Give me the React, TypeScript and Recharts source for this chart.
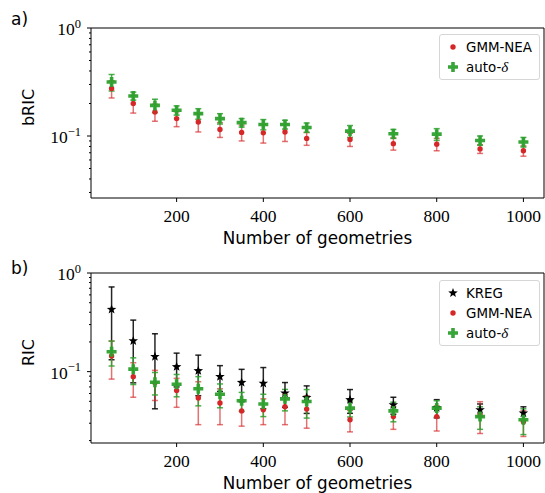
import React from 'react';
import { ScatterChart, Scatter, XAxis, YAxis, ErrorBar, Legend, ReferenceLine } from 'recharts';

// number of geometries (x positions shared by every series)
const geometries = [50, 100, 150, 200, 250, 300, 350, 400, 450, 500, 600, 700, 800, 900, 1000];

// panel a) bRIC
const gmmA = [0.275, 0.2, 0.167, 0.145, 0.135, 0.115, 0.108, 0.107, 0.109, 0.095, 0.093, 0.085, 0.084, 0.076, 0.073];
const gmmAErr = [0.05, 0.037, 0.03, 0.023, 0.026, 0.018, 0.018, 0.021, 0.02, 0.013, 0.013, 0.011, 0.011, 0.007, 0.008];
const autoA = [0.316, 0.235, 0.192, 0.173, 0.161, 0.145, 0.133, 0.128, 0.128, 0.12, 0.111, 0.105, 0.104, 0.091, 0.088];
const autoAErr = [0.055, 0.02, 0.027, 0.017, 0.018, 0.016, 0.012, 0.014, 0.012, 0.012, 0.014, 0.01, 0.013, 0.009, 0.009];

// panel b) RIC
const kregB = [0.427, 0.205, 0.142, 0.112, 0.102, 0.089, 0.0775, 0.076, 0.0605, 0.0547, 0.0518, 0.046, 0.043, 0.041, 0.038];
const kregBErr = [0.295, 0.128, 0.1, 0.042, 0.045, 0.026, 0.028, 0.034, 0.017, 0.017, 0.014, 0.009, 0.009, 0.006, 0.006];
const gmmB = [0.144, 0.089, 0.077, 0.0645, 0.054, 0.048, 0.04, 0.041, 0.044, 0.0417, 0.0325, 0.035, 0.035, 0.0366, 0.031];
const gmmBErr = [0.06, 0.034, 0.026, 0.021, 0.025, 0.019, 0.012, 0.012, 0.015, 0.015, 0.008, 0.009, 0.01, 0.013, 0.009];
const autoB = [0.159, 0.106, 0.078, 0.0746, 0.067, 0.059, 0.0506, 0.047, 0.053, 0.0498, 0.0427, 0.04, 0.0427, 0.035, 0.0325];
const autoBErr = [0.045, 0.032, 0.02, 0.019, 0.022, 0.016, 0.011, 0.012, 0.013, 0.016, 0.008, 0.009, 0.008, 0.009, 0.0095];

const xTicks = [200, 400, 600, 800, 1000];
const yTicksA = [0.03, 0.04, 0.05, 0.06, 0.07, 0.08, 0.09, 0.1, 0.2, 0.3, 0.4, 0.5, 0.6, 0.7, 0.8, 0.9, 1];
const yTicksB = [0.02, 0.03, 0.04, 0.05, 0.06, 0.07, 0.08, 0.09, 0.1, 0.2, 0.3, 0.4, 0.5, 0.6, 0.7, 0.8, 0.9, 1];

const SANS = '"DejaVu Sans", sans-serif';
const SERIF = '"Liberation Serif", serif';
const RED = '#d62728';
const GREEN = '#2ca02c';

const X_DOMAIN = [2.5, 1047.5];

const pts = (ys: number[], errs: number[]) =>
  geometries.map((x, i) => ({ x, y: ys[i], err: errs[i] }));

// markers (fixed pixel sizes, ignore the size Recharts passes in)
const Dot = (props: any) => <circle cx={props.cx} cy={props.cy} r={2.7} fill={RED} />;

const Plus = (props: any) => {
  const { cx, cy } = props;
  const a = 5, b = 1.8;
  const p = [
    [-b, -a], [b, -a], [b, -b], [a, -b], [a, b], [b, b],
    [b, a], [-b, a], [-b, b], [-a, b], [-a, -b], [-b, -b],
  ].map(([dx, dy]) => `${cx + dx},${cy + dy}`).join(' ');
  return <polygon points={p} fill={GREEN} fillOpacity={0.95} />;
};

const Star = (props: any) => {
  const { cx, cy } = props;
  const r = 5;
  const p: string[] = [];
  for (let i = 0; i < 10; i++) {
    const ang = -Math.PI / 2 + (i * Math.PI) / 5;
    const rr = i % 2 === 0 ? r : r * 0.42;
    p.push(`${cx + rr * Math.cos(ang)},${cy + rr * Math.sin(ang)}`);
  }
  return <polygon points={p.join(' ')} fill="#000" />;
};

// ticks
const YTick = ({ x, y, payload }: any) => {
  const v = payload.value;
  const lg = Math.log10(v);
  const major = Math.abs(lg - Math.round(lg)) < 1e-6;
  const len = major ? 4 : 2;
  const exp = Math.round(lg);
  return (
    <g>
      <line x1={x - len} x2={x} y1={y} y2={y} stroke="#000" strokeWidth={1} />
      {major && (
        <text x={x - 10} y={y + 7} textAnchor="end" fontFamily={SERIF} fontSize={17.5} fill="#000">
          10
          <tspan dy={-7.5} fontSize={12.5}>{exp < 0 ? `\u2212${-exp}` : `${exp}`}</tspan>
        </text>
      )}
    </g>
  );
};

const XTick = ({ x, y, payload }: any) => (
  <g>
    <line x1={x} x2={x} y1={y} y2={y + 4} stroke="#000" strokeWidth={1} />
    <text x={x} y={y + 24} textAnchor="middle" fontFamily={SERIF} fontSize={17.5} fill="#000">
      {payload.value}
    </text>
  </g>
);

const yLabel = (text: string) => (props: any) => {
  const vb = props.viewBox || { x: 0, y: 0, width: 0, height: 0 };
  const cx = 28;
  const cy = vb.y + vb.height / 2 - 5.5;
  return (
    <text x={cx} y={cy} transform={`rotate(-90 ${cx} ${cy})`} textAnchor="middle"
      dominantBaseline="central" fontFamily={SANS} fontSize={16} fill="#000">
      {text}
    </text>
  );
};

const xLabel = (props: any) => {
  const vb = props.viewBox || { x: 0, y: 0, width: 0, height: 0 };
  return (
    <text x={vb.x + vb.width / 2} y={vb.y + 46.3} textAnchor="middle" fontFamily={SANS} fontSize={16.8} fill="#000">
      Number of geometries
    </text>
  );
};

type LegendItem = { name: string; marker: 'star' | 'dot' | 'plus' };

const LegendIcon = ({ marker }: { marker: LegendItem['marker'] }) => (
  <svg width={14} height={14} style={{ display: 'block' }}>
    {marker === 'star' && <Star cx={7} cy={7} />}
    {marker === 'dot' && <Dot cx={7} cy={7} />}
    {marker === 'plus' && <Plus cx={7} cy={7} />}
  </svg>
);

const LegendBox = ({ items }: { items: LegendItem[] }) => (
  <div style={{
    border: '1px solid #d6d6d6', borderRadius: 3, background: 'rgba(255,255,255,0.85)',
    padding: '2px 0 2px 0', boxSizing: 'border-box', width: 101,
  }}>
    {items.map((it) => (
      <div key={it.name} style={{ display: 'flex', alignItems: 'center', height: 20, fontFamily: SANS, fontSize: 13.4, color: '#000' }}>
        <div style={{ width: 26, display: 'flex', justifyContent: 'center' }}>
          <LegendIcon marker={it.marker} />
        </div>
        <span>
          {it.name === 'auto-δ'
            ? <>auto-<span style={{ fontFamily: SERIF, fontStyle: 'italic', fontSize: 15 }}>δ</span></>
            : it.name}
        </span>
      </div>
    ))}
  </div>
);

const itemsA: LegendItem[] = [
  { name: 'GMM-NEA', marker: 'dot' },
  { name: 'auto-δ', marker: 'plus' },
];
const itemsB: LegendItem[] = [
  { name: 'KREG', marker: 'star' },
  { name: 'GMM-NEA', marker: 'dot' },
  { name: 'auto-δ', marker: 'plus' },
];

const barProps = { dataKey: 'err', direction: 'y' as const, width: 3, strokeWidth: 1.5, isAnimationActive: false };

const Panel = ({ height, top, yDomain, yTicks, yName, legendTop, items, series }: any) => (
  <ScatterChart width={545} height={height} margin={{ top, right: 1, bottom: 0, left: 0 }}>
    <XAxis
      dataKey="x" type="number" domain={X_DOMAIN} ticks={xTicks} interval={0}
      allowDataOverflow height={height - top - 170} tickSize={0} tickMargin={0}
      tickLine={false} axisLine={{ stroke: '#000', strokeWidth: 1 }} tick={<XTick />}
      label={{ content: xLabel }}
    />
    <YAxis
      dataKey="y" type="number" scale="log" domain={yDomain} ticks={yTicks} interval={0}
      allowDataOverflow width={91} tickSize={0} tickMargin={0}
      tickLine={false} axisLine={{ stroke: '#000', strokeWidth: 1 }} tick={<YTick />}
      label={{ content: yLabel(yName) }}
    />
    <ReferenceLine y={yDomain[1]} stroke="#000" strokeWidth={1} />
    <ReferenceLine x={X_DOMAIN[1]} stroke="#000" strokeWidth={1} />
    {series.map((s: any) => (
      <Scatter key={s.name} name={s.name} data={s.data} shape={s.shape} isAnimationActive={false}>
        <ErrorBar {...barProps} stroke={s.bar} />
      </Scatter>
    ))}
    <Legend
      layout="vertical" align="center" verticalAlign="middle"
      wrapperStyle={{ left: 439, top: legendTop, width: 101 }}
      content={() => <LegendBox items={items} />}
    />
  </ScatterChart>
);

export default function App() {
  const seriesA = [
    { name: 'GMM-NEA', data: pts(gmmA, gmmAErr), shape: Dot, bar: 'rgba(214,39,40,0.65)' },
    { name: 'auto-δ', data: pts(autoA, autoAErr), shape: Plus, bar: 'rgba(44,160,44,0.85)' },
  ];
  const seriesB = [
    { name: 'KREG', data: pts(kregB, kregBErr), shape: Star, bar: 'rgba(0,0,0,0.85)' },
    { name: 'GMM-NEA', data: pts(gmmB, gmmBErr), shape: Dot, bar: 'rgba(214,39,40,0.65)' },
    { name: 'auto-δ', data: pts(autoB, autoBErr), shape: Plus, bar: 'rgba(44,160,44,0.85)' },
  ];
  const panelLabel = (top: number): React.CSSProperties => ({
    position: 'absolute', left: 11, top, fontFamily: SANS, fontSize: 17, lineHeight: '20px', color: '#000',
  });
  return (
    <div style={{ position: 'absolute', left: 0, top: 0, width: 545, height: 493, background: '#fff', overflow: 'hidden' }}>
      <div style={{ position: 'relative', width: 545, height: 250 }}>
        <Panel height={250} top={28} yDomain={[0.02667, 1]} yTicks={yTicksA} yName="bRIC"
          legendTop={34} items={itemsA} series={seriesA} />
        <div style={panelLabel(9)}>a)</div>
      </div>
      <div style={{ position: 'relative', width: 545, height: 243 }}>
        <Panel height={243} top={23} yDomain={[0.0189, 1]} yTicks={yTicksB} yName="RIC"
          legendTop={30} items={itemsB} series={seriesB} />
        <div style={panelLabel(8)}>b)</div>
      </div>
    </div>
  );
}
